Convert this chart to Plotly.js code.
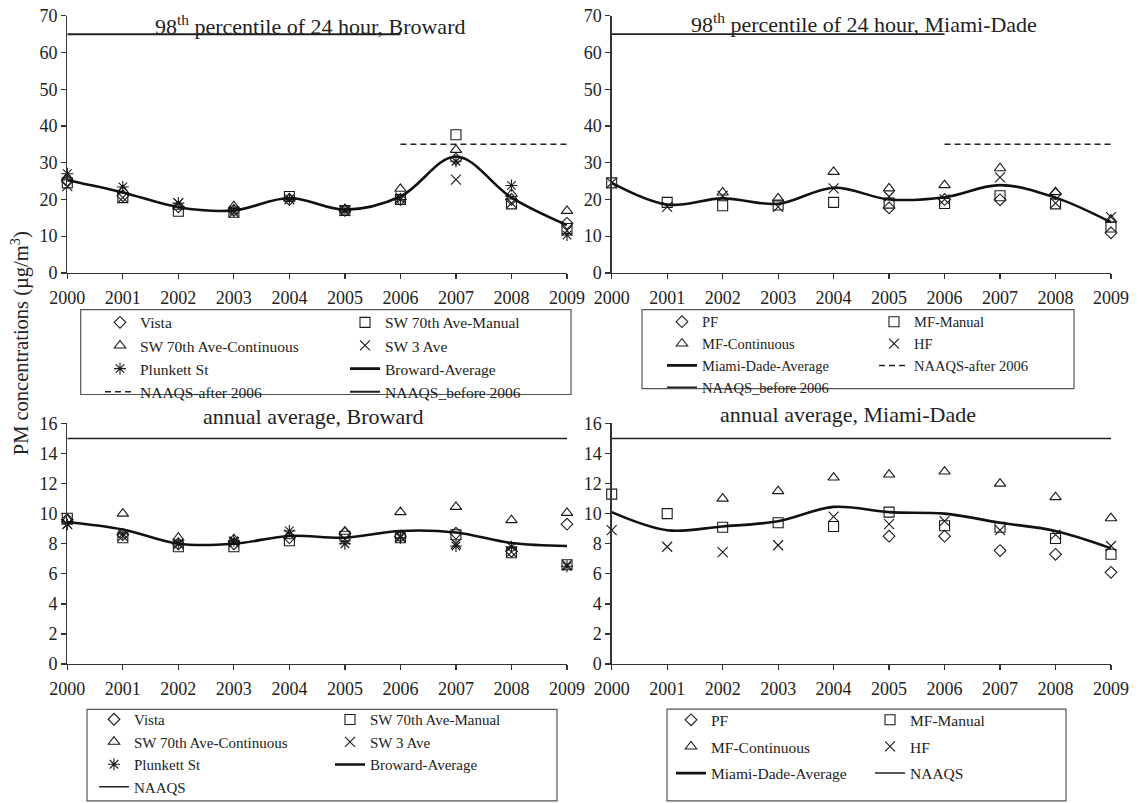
<!DOCTYPE html>
<html>
<head>
<meta charset="utf-8">
<script src="https://cdn.plot.ly/plotly-3.0.1.min.js"></script>
<style>html,body{margin:0;padding:0;background:#fff;}#chart{width:1139px;height:803px;}</style>
</head>
<body>
<div id="chart"></div>
<script>
// ---------------- data ----------------
const years = [2000, 2001, 2002, 2003, 2004, 2005, 2006, 2007, 2008, 2009];

// 98th percentile of 24 hour, Broward
const bw24Vista    = [25, 21, 18, 17, 20, 17, 20, 31, 20, 13.5];
const bw24Manual   = [24.5, 20.5, 16.8, 16.5, 20.8, 17, 20, 37.6, 18.8, 12.1];
const bw24Cont     = [26, 22.5, 18, 18.2, 20.3, 17.3, 22.9, 33.5, 21.5, 16.9];
const bw24SW3      = [23.6, 20.5, 19, 16.5, 20, 16.8, 20.5, 25.4, 19, 11.5];
const bw24Plunkett = [27, 23.4, 19, 17, 20, 17.2, 20, 30.4, 23.8, 10.3];
const bw24Avg      = [25.2, 21.9, 17.9, 17.0, 20.4, 17.2, 20.8, 31.7, 20.5, 13.0];

// 98th percentile of 24 hour, Miami-Dade
const md24PF     = [null, null, null, null, null, 17.7, 20, 19.9, 21.5, 10.9];
const md24Manual = [24.5, 19.2, 18.3, 18.5, 19.2, 19, 18.9, 21, 18.8, 12.5];
const md24Cont   = [null, null, 21.9, 20.3, 27.5, 23, 23.9, 28.5, 22, 14.5];
const md24HF     = [24.5, 18, 21, 18, 23, 20.8, 20, 26, 19, 15.2];
const md24Avg    = [24.5, 18.6, 20.3, 18.8, 23.2, 20, 20.6, 23.9, 20.5, 13.8];

// annual average, Broward
const bwAnnVista    = [9.6, 8.6, 8.0, 8.0, 8.4, 8.7, 8.5, 8.7, 7.5, 9.3];
const bwAnnManual   = [9.7, 8.4, 7.8, 7.8, 8.2, 8.5, 8.4, 8.6, 7.4, 6.6];
const bwAnnCont     = [9.6, 10.0, 8.4, 8.3, 8.5, 8.8, 10.1, 10.45, 9.57, 10.05];
const bwAnnSW3      = [9.3, 8.5, 8.0, 8.1, 8.6, 8.3, 8.5, 8.0, 7.45, 6.6];
const bwAnnPlunkett = [9.3, 8.65, 8.0, 8.2, 8.85, 8.0, 8.4, 7.85, 7.8, 6.5];
const bwAnnAvg      = [9.45, 8.95, 8.0, 8.0, 8.52, 8.4, 8.85, 8.75, 8.05, 7.85];

// annual average, Miami-Dade
const mdAnnPF     = [null, null, null, null, null, 8.5, 8.5, 7.55, 7.3, 6.1];
const mdAnnManual = [11.3, 10.0, 9.1, 9.4, 9.15, 10.1, 9.2, 9.1, 8.35, 7.3];
const mdAnnCont   = [null, null, 11.0, 11.5, 12.4, 12.6, 12.8, 12.0, 11.1, 9.7];
const mdAnnHF     = [8.9, 7.8, 7.45, 7.9, 9.8, 9.3, 9.5, 8.9, 8.6, 7.85];
const mdAnnAvg    = [10.1, 8.9, 9.15, 9.5, 10.45, 10.1, 10.0, 9.4, 8.85, 7.7];

// standards
const naaqs24Before = 65;   // applies 2000-2006
const naaqs24After  = 35;   // applies 2006-2009
const naaqsAnnual   = 15;   // applies 2000-2009
const yearsBefore = [2000, 2006];
const yearsAfter  = [2006, 2009];
const yearsAll    = [2000, 2009];

// ---------------- helpers ----------------
const W = 1139, H = 803;
const FONT = 'Liberation Serif, Times New Roman, serif';
const INK = '#1a1a1a';
const px = v => v / W;
const py = v => 1 - v / H;

function markers(name, ys, symbol, size, ax, legend) {
  return {
    type: 'scatter', mode: 'markers', name: name, x: years, y: ys,
    xaxis: ax[0], yaxis: ax[1], legend: legend, cliponaxis: false,
    marker: {symbol: symbol, size: size, color: INK, line: {color: INK, width: 1.1}},
    hoverinfo: 'skip'
  };
}
function avgLine(name, ys, ax, legend) {
  return {
    type: 'scatter', mode: 'lines', name: name, x: years, y: ys,
    xaxis: ax[0], yaxis: ax[1], legend: legend, cliponaxis: false,
    line: {color: '#111', width: 2.6, shape: 'spline', smoothing: 1},
    hoverinfo: 'skip'
  };
}
function stdLine(name, xs, val, dash, ax, legend, width) {
  return {
    type: 'scatter', mode: 'lines', name: name, x: xs, y: xs.map(() => val),
    xaxis: ax[0], yaxis: ax[1], legend: legend, cliponaxis: false,
    line: {color: '#222', width: width || 1.5, dash: dash},
    hoverinfo: 'skip'
  };
}

const TL = ['x', 'y'], TR = ['x2', 'y2'], BL = ['x3', 'y3'], BR = ['x4', 'y4'];
const DASH = '6px,4px';

const traces = [
  // top-left
  markers('Vista', bw24Vista, 'diamond-open', 9, TL, 'legend'),
  markers('SW 70th Ave-Manual', bw24Manual, 'square-open', 10, TL, 'legend2'),
  markers('SW 70th Ave-Continuous', bw24Cont, 'triangle-up-open', 10, TL, 'legend'),
  markers('SW 3 Ave', bw24SW3, 'x-thin-open', 10, TL, 'legend2'),
  markers('Plunkett St', bw24Plunkett, 'asterisk-open', 10, TL, 'legend'),
  avgLine('Broward-Average', bw24Avg, TL, 'legend2'),
  stdLine('NAAQS-after 2006', yearsAfter, naaqs24After, DASH, TL, 'legend'),
  stdLine('NAAQS_before 2006', yearsBefore, naaqs24Before, 'solid', TL, 'legend2', 2),
  // top-right
  markers('PF', md24PF, 'diamond-open', 9, TR, 'legend3'),
  markers('MF-Manual', md24Manual, 'square-open', 10, TR, 'legend4'),
  markers('MF-Continuous', md24Cont, 'triangle-up-open', 10, TR, 'legend3'),
  markers('HF', md24HF, 'x-thin-open', 10, TR, 'legend4'),
  avgLine('Miami-Dade-Average', md24Avg, TR, 'legend3'),
  stdLine('NAAQS-after 2006', yearsAfter, naaqs24After, DASH, TR, 'legend4'),
  stdLine('NAAQS_before 2006', yearsBefore, naaqs24Before, 'solid', TR, 'legend3', 1.6),
  // bottom-left
  markers('Vista', bwAnnVista, 'diamond-open', 9, BL, 'legend5'),
  markers('SW 70th Ave-Manual', bwAnnManual, 'square-open', 10, BL, 'legend6'),
  markers('SW 70th Ave-Continuous', bwAnnCont, 'triangle-up-open', 10, BL, 'legend5'),
  markers('SW 3 Ave', bwAnnSW3, 'x-thin-open', 10, BL, 'legend6'),
  markers('Plunkett St', bwAnnPlunkett, 'asterisk-open', 10, BL, 'legend5'),
  avgLine('Broward-Average', bwAnnAvg, BL, 'legend6'),
  stdLine('NAAQS', yearsAll, naaqsAnnual, 'solid', BL, 'legend5', 1.5),
  // bottom-right
  markers('PF', mdAnnPF, 'diamond-open', 9, BR, 'legend7'),
  markers('MF-Manual', mdAnnManual, 'square-open', 10, BR, 'legend8'),
  markers('MF-Continuous', mdAnnCont, 'triangle-up-open', 10, BR, 'legend7'),
  markers('HF', mdAnnHF, 'x-thin-open', 10, BR, 'legend8'),
  avgLine('Miami-Dade-Average', mdAnnAvg, BR, 'legend7'),
  stdLine('NAAQS', yearsAll, naaqsAnnual, 'solid', BR, 'legend8', 1.5)
];
// extra vertical gap between bottom-right legend rows
traces.slice(22).forEach((t, i) => { t.legendgroup = 'g' + i; });

function xax(domain, anchor) {
  return {
    domain: domain, anchor: anchor, range: [2000, 2009], tickvals: years,
    showgrid: false, zeroline: false, showline: true, linecolor: '#333', linewidth: 1.3,
    ticks: 'outside', ticklen: 5, tickcolor: '#333', tickwidth: 1.2,
    tickfont: {family: FONT, size: 18, color: '#222'}, ticklabelstandoff: 3, fixedrange: true
  };
}
function yax(domain, anchor, max, dtick) {
  return {
    domain: domain, anchor: anchor, range: [0, max], dtick: dtick,
    showgrid: false, zeroline: false, showline: true, linecolor: '#333', linewidth: 1.3,
    ticks: 'outside', ticklen: 5, tickcolor: '#333', tickwidth: 1.2,
    tickfont: {family: FONT, size: 18, color: '#222'}, fixedrange: true
  };
}

const xL = [px(67.3), px(567)], xR = [px(611.7), px(1111)];
const yT = [py(276.7), py(16)], yB = [py(673.3), py(429.3)];

function leg(xPix, yPix, size, gap) {
  return {
    x: px(xPix), y: py(yPix), xanchor: 'left', yanchor: 'top',
    bgcolor: 'rgba(0,0,0,0)', borderwidth: 0, orientation: 'v',
    font: {family: FONT, size: size, color: '#222'}, tracegroupgap: gap || 0
  };
}

function box(x0, y0, x1, y1) {
  return {type: 'rect', xref: 'paper', yref: 'paper', x0: px(x0), x1: px(x1), y0: py(y0), y1: py(y1),
    line: {color: '#555', width: 1.2}, fillcolor: 'rgba(0,0,0,0)', layer: 'below'};
}
function title(text, xc, yc) {
  return {text: text, xref: 'paper', yref: 'paper', x: px(xc), y: py(yc), xanchor: 'center', yanchor: 'middle',
    showarrow: false, font: {family: FONT, size: 22, color: '#222'}};
}

const layout = {
  width: W, height: H, margin: {l: 0, r: 0, t: 0, b: 0},
  paper_bgcolor: '#fff', plot_bgcolor: 'rgba(0,0,0,0)',
  showlegend: true,
  xaxis: xax(xL, 'y'), yaxis: yax(yT, 'x', 70, 10),
  xaxis2: xax(xR, 'y2'), yaxis2: yax(yT, 'x2', 70, 10),
  xaxis3: xax(xL, 'y3'), yaxis3: yax(yB, 'x3', 16, 2),
  xaxis4: xax(xR, 'y4'), yaxis4: yax(yB, 'x4', 16, 2),
  legend: leg(100, 310, 15.5), legend2: leg(345, 310, 15.5),
  legend3: leg(662, 310, 14.5), legend4: leg(874, 310, 14.5),
  legend5: leg(94, 713, 15), legend6: leg(330, 713, 15),
  legend7: leg(671, 713, 15.5, 3.5), legend8: leg(870, 713, 15.5, 3.5),
  shapes: [
    box(80.7, 314, 571, 400), box(642, 314, 1074, 394),
    box(87, 719.3, 557, 812), box(667, 719, 1066, 812)
  ],
  annotations: [
    title('98<sup>th</sup> percentile of 24 hour, Broward', 310, 25),
    title('98<sup>th</sup> percentile of 24 hour, Miami-Dade', 864, 23),
    title('annual average, Broward', 313, 422),
    title('annual average, Miami-Dade', 848, 420),
    {text: 'PM concentrations (µg/m<sup>3</sup>)', xref: 'paper', yref: 'paper', x: px(20), y: py(348),
     xanchor: 'center', yanchor: 'middle', textangle: -90, showarrow: false,
     font: {family: FONT, size: 20.5, color: '#222'}}
  ]
};

Plotly.newPlot('chart', traces, layout, {displayModeBar: false, staticPlot: true});
</script>
</body>
</html>
